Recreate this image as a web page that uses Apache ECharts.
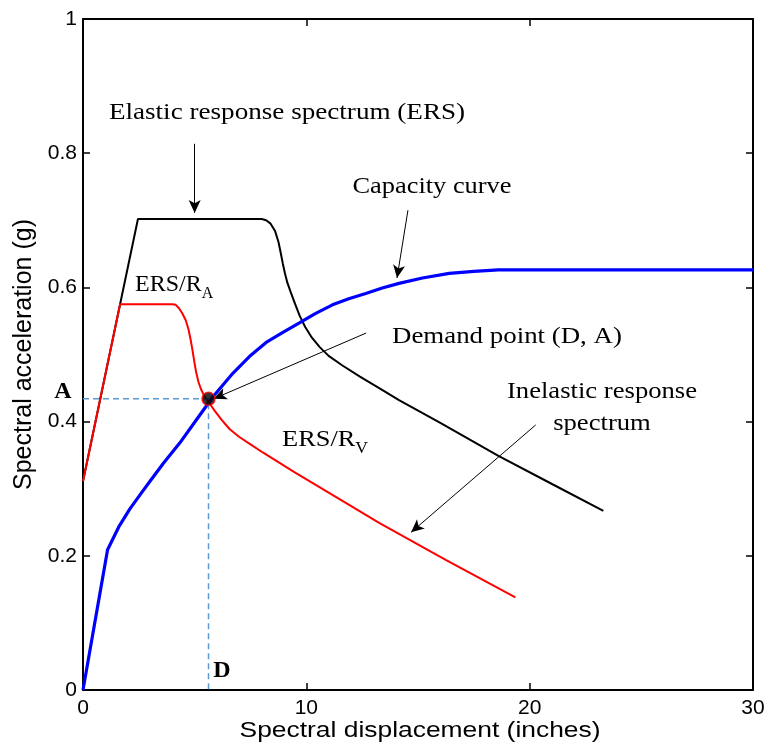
<!DOCTYPE html>
<html>
<head>
<meta charset="utf-8">
<script src="https://cdn.jsdelivr.net/npm/echarts@6/dist/echarts.min.js"></script>
<style>
html,body{margin:0;padding:0;background:#fff;}
#chart{width:769px;height:754px;}
</style>
</head>
<body>
<div id="chart"></div>
<script>
// Elastic response spectrum (ERS) [Sd (in), Sa (g)]
const ersData = [[0,0.311],[2.46,0.702],[8.0,0.702],[8.2,0.700],[8.4,0.695],[8.6,0.684],[8.75,0.668],[8.85,0.652],[8.95,0.635],[9.05,0.620],[9.15,0.607],[9.3,0.593],[9.5,0.575],[9.7,0.558],[9.95,0.541],[10.25,0.525],[10.6,0.511],[11.0,0.498],[11.6,0.484],[12.4,0.467],[13.3,0.449],[14.15,0.432],[16.0,0.398],[18.6,0.349],[21.0,0.307],[23.3,0.267]];
// Inelastic response spectrum
const inelasticData = [[0,0.311],[1.66,0.575],[4.0,0.575],[4.15,0.574],[4.3,0.569],[4.45,0.561],[4.6,0.551],[4.72,0.538],[4.82,0.522],[4.9,0.507],[4.98,0.490],[5.07,0.473],[5.17,0.459],[5.3,0.447],[5.45,0.437],[5.67,0.427],[5.9,0.416],[6.2,0.403],[6.56,0.389],[7.0,0.377],[7.5,0.366],[8.05,0.354],[9.5,0.324],[11.0,0.294],[13.26,0.249],[16.24,0.194],[19.36,0.138]];
// Capacity curve
const capacityData = [[0,0],[1.1,0.209],[1.6,0.243],[2.1,0.270],[2.6,0.293],[3.0,0.311],[3.6,0.338],[4.33,0.368],[5.0,0.399],[5.82,0.437],[6.71,0.472],[7.45,0.497],[8.2,0.518],[8.95,0.533],[9.69,0.547],[10.4,0.561],[11.17,0.574],[11.9,0.583],[12.66,0.591],[13.4,0.599],[14.15,0.606],[15.2,0.614],[16.4,0.621],[17.5,0.624],[18.6,0.626],[30,0.626]];
// Demand point (D, A)
const demandPoint = [5.62, 0.434];
const xTicks = [0, 10, 20, 30];
const yTicks = [0, 0.2, 0.4, 0.6, 0.8, 1];

const serif = '"Liberation Serif", "Times New Roman", serif';
const sans = '"Liberation Sans", Arial, sans-serif';

const chart = echarts.init(document.getElementById('chart'), null, {renderer:'canvas'});

const axisBase = {
  type:'value',
  axisLine:{show:true, onZero:false, lineStyle:{color:'#000', width:2}},
  axisTick:{show:true, inside:true, length:7, lineStyle:{color:'#000', width:1.5}},
  splitLine:{show:false}
};

function arrow(x1,y1,x2,y2){ return [{coord:[x1,y1]},{coord:[x2,y2]}]; }

function txt(text, x, y, opts){
  return Object.assign({
    type:'text', x:x, y:y, scaleX:1.1, z:50,
    style:{text:text, x:0, y:0, fill:'#000', font:'24px ' + serif, textAlign:'center', textVerticalAlign:'middle'}
  }, opts || {});
}

const option = {
  animation:false,
  backgroundColor:'#fff',
  grid:{left:83, right:16, top:19, bottom:64, containLabel:false},
  xAxis:[
    Object.assign({}, axisBase, {min:xTicks[0], max:xTicks[xTicks.length-1], interval:10, position:'bottom',
      axisLabel:{show:true, color:'#000', fontSize:21, fontFamily:sans, margin:8}}),
    Object.assign({}, axisBase, {min:xTicks[0], max:xTicks[xTicks.length-1], interval:10, position:'top',
      axisLabel:{show:false}})
  ],
  yAxis:[
    Object.assign({}, axisBase, {min:yTicks[0], max:yTicks[yTicks.length-1], interval:0.2, position:'left',
      name:'Spectral acceleration (g)', nameLocation:'middle', nameGap:44, nameRotate:90,
      nameTextStyle:{color:'#000', fontSize:25, fontFamily:sans},
      axisLabel:{show:true, color:'#000', fontSize:21, fontFamily:sans, margin:6}}),
    Object.assign({}, axisBase, {min:yTicks[0], max:yTicks[yTicks.length-1], interval:0.2, position:'right',
      axisLabel:{show:false}})
  ],
  series:[
    {type:'line', name:'ERS', data:ersData, showSymbol:false, symbol:'none', z:2,
      lineStyle:{color:'#000000', width:2}},
    {type:'line', name:'Capacity', data:capacityData, showSymbol:false, symbol:'none', z:3,
      lineStyle:{color:'#0000ff', width:3.2}},
    {type:'line', name:'Inelastic', data:inelasticData, showSymbol:false, symbol:'none', z:4,
      lineStyle:{color:'#ff0000', width:2}},
    {type:'line', name:'Guides', data:[[0,demandPoint[1]],[demandPoint[0],demandPoint[1]],[demandPoint[0],0]],
      showSymbol:false, symbol:'none', z:5,
      lineStyle:{color:'#5b9bd5', width:1.5, type:[6,4]},
      markLine:{
        silent:true, animation:false, symbol:['none','arrow'], symbolSize:[9,13],
        label:{show:false},
        lineStyle:{color:'#000', width:1, type:'solid'},
        data:[
          arrow(5.0,0.814,5.0,0.711),
          arrow(14.55,0.715,14.06,0.614),
          arrow(12.68,0.532,5.85,0.434),
          arrow(20.27,0.395,14.69,0.235)
        ]
      }},
    {type:'scatter', name:'Demand', data:[demandPoint], symbol:'circle', symbolSize:13, z:6,
      itemStyle:{color:'#000', borderColor:'#ff0000', borderWidth:1.5}}
  ],
  graphic:[
    txt('Elastic response spectrum (ERS)', 287, 113, {scaleX:1.13}),
    txt('Capacity curve', 432, 187, {scaleX:1.1}),
    {type:'text', x:392, y:337, scaleX:1.12, z:50,
      style:{text:'Demand point (D, A)', x:0, y:0, fill:'#000', font:'24px ' + serif, textAlign:'left', textVerticalAlign:'middle'}},
    txt('Inelastic response', 602, 392, {scaleX:1.11}),
    txt('spectrum', 602, 424, {scaleX:1.11}),
    {type:'text', x:135, y:268, scaleX:1.0, z:50,
      style:{text:'{b|ERS/R}{s|A}', x:0, y:0, fill:'#000', textAlign:'left', textVerticalAlign:'top',
        rich:{b:{fontSize:24, fontFamily:serif, lineHeight:34, color:'#000'}, s:{fontSize:16, fontFamily:serif, verticalAlign:'bottom', color:'#000'}}}},
    {type:'text', x:282, y:423, scaleX:1.1, z:50,
      style:{text:'{b|ERS/R}{s|V}', x:0, y:0, fill:'#000', textAlign:'left', textVerticalAlign:'top',
        rich:{b:{fontSize:24, fontFamily:serif, lineHeight:34, color:'#000'}, s:{fontSize:16, fontFamily:serif, verticalAlign:'bottom', color:'#000'}}}},
    txt('A', 63, 392, {scaleX:1.0, style:{text:'A', x:0, y:0, fill:'#000', font:'bold 24px ' + serif, textAlign:'center', textVerticalAlign:'middle'}}),
    txt('D', 222, 671, {scaleX:1.0, style:{text:'D', x:0, y:0, fill:'#000', font:'bold 24px ' + serif, textAlign:'center', textVerticalAlign:'middle'}}),
    {type:'text', x:420, y:731, scaleX:1.2, z:50,
      style:{text:'Spectral displacement (inches)', x:0, y:0, fill:'#000', font:'22px ' + sans, textAlign:'center', textVerticalAlign:'middle'}}
  ]
};
chart.setOption(option);
</script>
</body>
</html>
